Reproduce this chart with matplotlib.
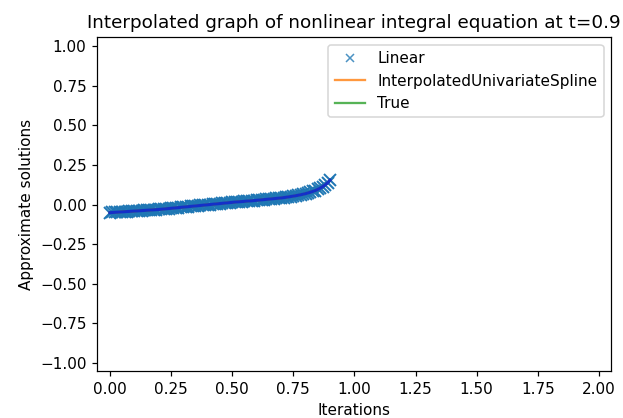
import matplotlib
matplotlib.use("Agg")
import matplotlib.pyplot as plt
import numpy as np

x_vals = [0.00, 0.01, 0.02, 0.03, 0.04, 0.05, 0.06, 0.07, 0.08, 0.09,
          0.10, 0.11, 0.12, 0.13, 0.14, 0.15, 0.16, 0.17, 0.18, 0.19,
          0.20, 0.21, 0.22, 0.23, 0.24, 0.25, 0.26, 0.27, 0.28, 0.29,
          0.30, 0.31, 0.32, 0.33, 0.34, 0.35, 0.36, 0.37, 0.38, 0.39,
          0.40, 0.41, 0.42, 0.43, 0.44, 0.45, 0.46, 0.47, 0.48, 0.49,
          0.50, 0.51, 0.52, 0.53, 0.54, 0.55, 0.56, 0.57, 0.58, 0.59,
          0.60, 0.61, 0.62, 0.63, 0.64, 0.65, 0.66, 0.67, 0.68, 0.69,
          0.70, 0.71, 0.72, 0.73, 0.74, 0.75, 0.76, 0.77, 0.78, 0.79,
          0.80, 0.81, 0.82, 0.83, 0.84, 0.85, 0.86, 0.87, 0.88, 0.89,
          0.90]
y_vals = [-0.051, -0.050, -0.049, -0.048, -0.047, -0.046, -0.045, -0.044, -0.043, -0.042,
          -0.041, -0.040, -0.039, -0.038, -0.037, -0.036, -0.035, -0.034, -0.033, -0.032,
          -0.031, -0.0295, -0.028, -0.0265, -0.025, -0.0235, -0.022, -0.0205, -0.019, -0.0175,
          -0.016, -0.0145, -0.013, -0.0115, -0.010, -0.0085, -0.007, -0.0055, -0.004, -0.0025,
          -0.001, 0.0005, 0.002, 0.0035, 0.005, 0.0065, 0.008, 0.0095, 0.011, 0.0125,
          0.014, 0.0155, 0.017, 0.018, 0.019, 0.0205, 0.022, 0.023, 0.024, 0.0255,
          0.027, 0.0285, 0.030, 0.0315, 0.033, 0.0345, 0.036, 0.0375, 0.039, 0.0405,
          0.042, 0.044, 0.046, 0.0485, 0.051, 0.0535, 0.056, 0.059, 0.062, 0.0655,
          0.069, 0.0735, 0.078, 0.0835, 0.089, 0.096, 0.104, 0.113, 0.124, 0.137,
          0.154]

DPI = 110
fig = plt.figure(figsize=(623 / DPI, 418 / DPI), dpi=DPI)
ax = fig.add_axes([0.156, 0.112, 0.825, 0.799])

ax.plot(x_vals, y_vals, 'x', color='C0', markersize=8, markeredgewidth=1.3, label='Linear')
ax.plot(x_vals, y_vals, '-', color='C1', label='InterpolatedUnivariateSpline')
ax.plot(x_vals, y_vals, '-', color='C2', label='True')
ax.plot(x_vals, y_vals, '-', color='#1530c8', linewidth=2)

ax.set_xlim(-0.052, 2.05)
ax.set_ylim(-1.053, 1.058)
ax.set_xticks(np.arange(0, 2.01, 0.25))
ax.set_yticks(np.arange(-1.0, 1.01, 0.25))
ax.set_title('Interpolated graph of nonlinear integral equation at t=0.9', fontsize=12)
ax.set_xlabel('Iterations')
ax.set_ylabel('Approximate solutions')
leg = ax.legend(loc='upper right', markerscale=0.7)
for h in leg.legend_handles:
    try:
        h.set_markeredgewidth(1.0)
        h.set_alpha(0.8)
    except AttributeError:
        pass

fig.savefig('out.png', dpi=DPI)
